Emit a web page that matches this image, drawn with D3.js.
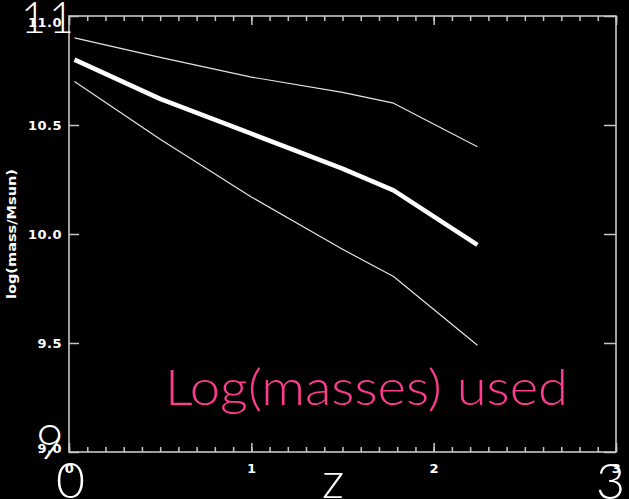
<!DOCTYPE html>
<html>
<head>
<meta charset="utf-8">
<script src="https://cdn.jsdelivr.net/npm/d3@7"></script>
<style>
  html, body { margin: 0; padding: 0; background: #000; }
  svg { display: block; }
</style>
</head>
<body>
<svg id="chart" width="629" height="499"></svg>
<script>
// Redshift sampling and log stellar masses for the three tracks
const zValues    = [0.03, 0.5, 1.0, 1.5, 1.78, 2.24];
const upperMass  = [10.90, 10.81, 10.72, 10.65, 10.60, 10.40];
const medianMass = [10.80, 10.62, 10.46, 10.30, 10.20, 9.95];
const lowerMass  = [10.70, 10.435, 10.17, 9.93, 9.805, 9.49];

// Axis ticks and labels
const xMajorTicks = [0, 1, 2, 3];
const xTickLabels = ["0", "1", "2", "3"];
const yTicks      = [9.0, 9.5, 10.0, 10.5, 11.0];
const yTickLabels = ["9.0", "9.5", "10.0", "10.5", "11.0"];
const yAxisTitle  = "log(mass/Msun)";
const caption     = "Log(masses) used";

const svg = d3.select("#chart");
svg.append("rect").attr("width", 629).attr("height", 499).attr("fill", "#000");

const frame = { left: 69, right: 616, top: 16, bottom: 452 };
const x = d3.scaleLinear().domain([0, 3]).range([frame.left, frame.right]);
const y = d3.scaleLinear().domain([9, 11]).range([frame.bottom, frame.top]);

const axisColor = "#c6c6c6";
const tickFont = "bold 13px 'DejaVu Sans', sans-serif";
const xMinorTicks = d3.range(0, 31).map(i => i / 10);

function styleAxis(g) {
  g.select(".domain").remove();
  g.selectAll(".tick line").attr("stroke", axisColor).attr("stroke-width", 1.5);
  g.selectAll(".tick text")
    .attr("fill", "#fff")
    .style("font", tickFont)
    .style("letter-spacing", "0.5px");
}

// bottom axis: minor and major ticks pointing inward
svg.append("g").attr("transform", `translate(0,${frame.bottom})`)
  .call(d3.axisBottom(x).tickValues(xMinorTicks).tickSizeInner(-5).tickSizeOuter(0).tickFormat(""))
  .call(styleAxis);
svg.append("g").attr("transform", `translate(0,${frame.bottom})`)
  .call(d3.axisBottom(x).tickValues(xMajorTicks).tickSizeInner(-9).tickSizeOuter(0).tickPadding(12)
    .tickFormat((d, i) => xTickLabels[i]))
  .call(styleAxis);

// top axis: ticks only
svg.append("g").attr("transform", `translate(0,${frame.top})`)
  .call(d3.axisTop(x).tickValues(xMinorTicks).tickSizeInner(-5).tickSizeOuter(0).tickFormat(""))
  .call(styleAxis);
svg.append("g").attr("transform", `translate(0,${frame.top})`)
  .call(d3.axisTop(x).tickValues(xMajorTicks).tickSizeInner(-9).tickSizeOuter(0).tickFormat(""))
  .call(styleAxis);

// left axis with labels
const yAxisG = svg.append("g").attr("transform", `translate(${frame.left},0)`)
  .call(d3.axisLeft(y).tickValues(yTicks).tickSizeInner(-10).tickSizeOuter(0).tickPadding(7)
    .tickFormat((d, i) => yTickLabels[i]))
  .call(styleAxis);
// keep the end labels inside the frame height
yAxisG.selectAll(".tick text").attr("dy", d => d === 11 ? "0.8em" : d === 9 ? "0.05em" : "0.35em");

// right axis: ticks only
svg.append("g").attr("transform", `translate(${frame.right},0)`)
  .call(d3.axisRight(y).tickValues(yTicks).tickSizeInner(-12).tickSizeOuter(0).tickFormat(""))
  .call(styleAxis);

// frame
svg.append("rect")
  .attr("x", frame.left).attr("y", frame.top)
  .attr("width", frame.right - frame.left).attr("height", frame.bottom - frame.top)
  .attr("fill", "none").attr("stroke", axisColor).attr("stroke-width", 1.6);

// y axis title
svg.append("text")
  .attr("transform", `translate(16,${(frame.top + frame.bottom) / 2}) rotate(-90)`)
  .attr("text-anchor", "middle")
  .attr("fill", "#fff")
  .style("font", "bold 13px 'DejaVu Sans', sans-serif")
  .attr("textLength", 130).attr("lengthAdjust", "spacingAndGlyphs")
  .text(yAxisTitle);

// mass tracks
const line = d3.line().x(d => x(d[0])).y(d => y(d[1]));
const tracks = [
  { values: upperMass,  width: 1.2, color: "#e4e4e4" },
  { values: lowerMass,  width: 1.2, color: "#e4e4e4" },
  { values: medianMass, width: 4.5, color: "#ffffff" }
];
svg.append("g").selectAll("path").data(tracks).join("path")
  .attr("d", t => line(zValues.map((z, i) => [z, t.values[i]])))
  .attr("fill", "none")
  .attr("stroke", t => t.color)
  .attr("stroke-width", t => t.width)
  .attr("stroke-linejoin", "round");

// caption
svg.append("text")
  .attr("x", 165).attr("y", 405)
  .attr("fill", "#ff3b8e")
  .style("font-family", "Lato, 'Noto Sans', sans-serif")
  .style("font-weight", 300)
  .style("font-size", "49px")
  .attr("textLength", 403).attr("lengthAdjust", "spacingAndGlyphs")
  .text(caption);

// large axis annotations
const bigLabels = [
  { text: "11", x: 21, y: 33, size: 43, spacing: 3 },
  { text: "9",  x: 36, y: 459, size: 48, spacing: 0 },
  { text: "0",  x: 56, y: 498, size: 50, spacing: 0 },
  { text: "z",  x: 322, y: 498, size: 50, spacing: 0 },
  { text: "3",  x: 596, y: 499, size: 50, spacing: 0 }
];
svg.append("g").selectAll("text").data(bigLabels).join("text")
  .attr("x", d => d.x).attr("y", d => d.y)
  .attr("fill", "#fff")
  .style("font-family", "Lato, 'Noto Sans', sans-serif")
  .style("font-weight", 300)
  .style("font-size", d => d.size + "px")
  .style("letter-spacing", d => d.spacing + "px")
  .text(d => d.text);
</script>
</body>
</html>
